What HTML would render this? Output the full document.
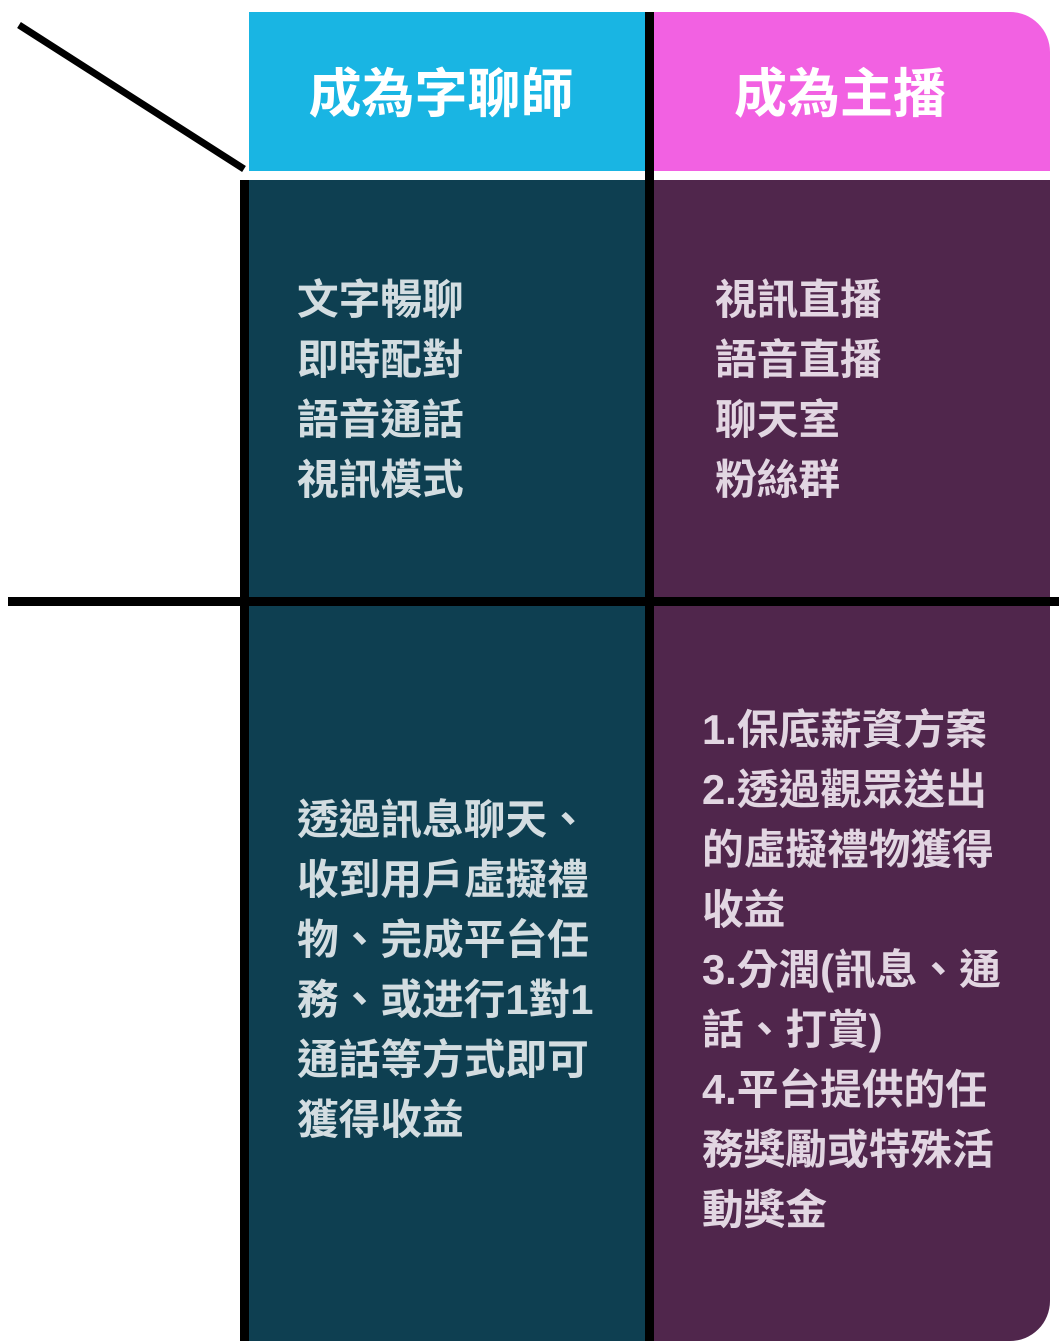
<!DOCTYPE html>
<html><head><meta charset="utf-8"><style>
html,body{margin:0;padding:0;background:#fff;}
body{width:1059px;height:1341px;position:relative;overflow:hidden;font-family:"Liberation Sans","Noto Sans CJK TC",sans-serif;}
.a{position:absolute;}
.t{position:absolute;font-weight:700;font-size:41.7px;line-height:60px;white-space:pre;}
.tl{color:#d3dde1;}
.tr{color:#e2d6e2;}
.h{position:absolute;font-weight:700;font-size:53px;color:#fff;line-height:60px;text-align:center;}
</style></head><body>
<div class="a" style="left:249px;top:12px;width:396px;height:159px;background:#19b5e3;"></div>
<div class="a" style="left:654px;top:12px;width:396px;height:159px;background:#f261e2;border-top-right-radius:40px;"></div>
<div class="a" style="left:249px;top:180px;width:396px;height:1161px;background:#0e3f51;"></div>
<div class="a" style="left:654px;top:180px;width:396px;height:1161px;background:#50264c;border-bottom-right-radius:40px;"></div>
<div class="a" style="left:240px;top:180px;width:9px;height:1161px;background:#000;"></div>
<div class="a" style="left:645px;top:12px;width:9px;height:1329px;background:#000;"></div>
<div class="a" style="left:8px;top:597px;width:1051px;height:9px;background:#000;"></div>
<svg class="a" style="left:0;top:0" width="260" height="190"><line x1="19" y1="25" x2="244" y2="169" stroke="#000" stroke-width="7"/></svg>
<div class="h" style="left:243px;top:65px;width:396px;">成為字聊師</div>
<div class="h" style="left:650px;top:65px;width:380px;">成為主播</div>
<div class="t tl" style="left:297px;top:270px;">文字暢聊
即時配對
語音通話
視訊模式</div>
<div class="t tr" style="left:715px;top:270px;">視訊直播
語音直播
聊天室
粉絲群</div>
<div class="t tl" style="left:297px;top:790px;">透過訊息聊天、
收到用戶虛擬禮
物、完成平台任
務、或进行1對1
通話等方式即可
獲得收益</div>
<div class="t tr" style="left:702px;top:700px;">1.保底薪資方案
2.透過觀眾送出
的虛擬禮物獲得
收益
3.分潤(訊息、通
話、打賞)
4.平台提供的任
務獎勵或特殊活
動獎金</div>
</body></html>
